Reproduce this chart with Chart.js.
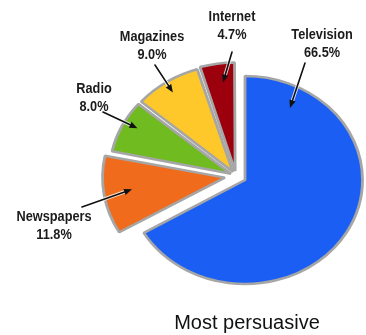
<!DOCTYPE html>
<html>
<head>
<meta charset="utf-8">
<script src="https://cdn.jsdelivr.net/npm/chart.js@4/dist/chart.umd.min.js"></script>
<style>
	html, body { margin: 0; padding: 0; background: #fff; }
	#wrap { width: 366px; height: 335px; position: relative; }
	#wrap div { position: absolute; left: 0; top: 0; width: 366px; height: 335px; }
</style>
</head>
<body>
<div id="wrap">
	<div><canvas id="mainPie"></canvas></div>
	<div><canvas id="smallPie"></canvas></div>
</div>
<script>
// data
const categories = ['Television', 'Newspapers', 'Radio', 'Magazines', 'Internet'];
const shares = [66.5, 11.8, 8.0, 9.0, 4.7];
const chartTitle = 'Most persuasive';

// styles
const sliceColors = ['#1a5ef4', '#f06b1c', '#70bb1f', '#fec82a', '#9b000c'];
const STRETCH_X = 1.13; // the original pie is drawn a little wider than tall
const LABEL_FONT = 'bold 15px "Liberation Sans", Arial, sans-serif';

// the small slices are pulled out of the pie as one group, so they are drawn by a
// second pie laid over the first one (same data, other slices left transparent)
const mainIdx = [0];
const groupIdx = [1, 2, 3, 4];

// callouts: arrow tip inside the slice (t = fraction along slice angle, rf = fraction
// of radius), arrow tail and label centre relative to the pie centre
const callouts = [
	{ t: 0.121, rf: 0.79, tail: [60, -117], label: [77, -145] },
	{ t: 0.53, rf: 0.79, tail: [-154, 31], label: [-182, 41] },
	{ t: 0.59, rf: 0.9, tail: [-133, -64], label: [-142, -87] },
	{ t: 0.48, rf: 0.91, tail: [-81, -111], label: [-84, -139] },
	{ t: 0.59, rf: 0.85, tail: [-4, -124], label: [-4, -159] }
];

function drawArrow(ctx, x1, y1, x2, y2) {
	const ang = Math.atan2(y2 - y1, x2 - x1);
	const len = 8, half = 3.2;
	const bx = x2 - Math.cos(ang) * len, by = y2 - Math.sin(ang) * len;
	ctx.lineCap = 'round';
	ctx.strokeStyle = 'rgba(255,255,255,0.8)';
	ctx.lineWidth = 3.5;
	ctx.beginPath(); ctx.moveTo(x1, y1); ctx.lineTo(bx, by); ctx.stroke();
	ctx.strokeStyle = '#111';
	ctx.lineWidth = 1.6;
	ctx.beginPath(); ctx.moveTo(x1, y1); ctx.lineTo(bx, by); ctx.stroke();
	ctx.fillStyle = '#111';
	ctx.beginPath();
	ctx.moveTo(x2, y2);
	ctx.lineTo(bx + Math.sin(ang) * half, by - Math.cos(ang) * half);
	ctx.lineTo(bx - Math.sin(ang) * half, by + Math.cos(ang) * half);
	ctx.closePath();
	ctx.fill();
}

function condensedText(ctx, text, x, y) {
	ctx.save();
	ctx.translate(x, y);
	ctx.scale(0.85, 1);
	ctx.fillText(text, 0, 0);
	ctx.restore();
}

const stretchPlugin = {
	id: 'stretch',
	beforeDatasetsDraw(chart) {
		const ctx = chart.ctx;
		const cx = chart.getDatasetMeta(0).data[0].x;
		ctx.save();
		ctx.translate(cx, 0);
		ctx.scale(STRETCH_X, 1);
		ctx.translate(-cx, 0);
	},
	afterDatasetsDraw(chart) {
		chart.ctx.restore();
	}
};

const calloutPlugin = {
	id: 'callouts',
	afterDatasetsDraw(chart, args, opts) {
		const ctx = chart.ctx;
		const meta = chart.getDatasetMeta(0);
		ctx.save();
		opts.indices.forEach(i => {
			const arc = meta.data[i];
			const c = callouts[i];
			const shift = (arc.options.offset || 0) / 4;
			const half = (arc.startAngle + arc.endAngle) / 2;
			const a = arc.startAngle + c.t * (arc.endAngle - arc.startAngle);
			const r = arc.outerRadius * c.rf;
			const ux = Math.cos(half) * shift + Math.cos(a) * r;
			const tipX = arc.x + ux * STRETCH_X;
			const tipY = arc.y + Math.sin(half) * shift + Math.sin(a) * r;
			drawArrow(ctx, arc.x + c.tail[0], arc.y + c.tail[1], tipX, tipY);

			ctx.font = LABEL_FONT;
			ctx.fillStyle = '#1b1b1b';
			ctx.textAlign = 'center';
			ctx.textBaseline = 'middle';
			const lx = arc.x + c.label[0], ly = arc.y + c.label[1];
			condensedText(ctx, categories[i], lx, ly);
			condensedText(ctx, shares[i].toFixed(1) + '%', lx, ly + 18);
		});

		if (opts.title) {
			const first = meta.data[0];
			ctx.font = '20px "Liberation Sans", Arial, sans-serif';
			ctx.fillStyle = '#111';
			ctx.textAlign = 'center';
			ctx.textBaseline = 'middle';
			ctx.fillText(chartTitle, first.x + 2, first.y + 143);
		}
		ctx.restore();
	}
};

function makePie(canvasId, visible, offsets, radius, padding, withTitle) {
	const shown = categories.map((c, i) => visible.indexOf(i) !== -1);
	return new Chart(document.getElementById(canvasId), {
		type: 'pie',
		data: {
			labels: categories,
			datasets: [{
				data: shares,
				backgroundColor: sliceColors.map((col, i) => shown[i] ? col : 'rgba(0,0,0,0)'),
				borderColor: '#a6a6a6',
				borderWidth: shown.map(s => s ? 2.5 : 0),
				offset: offsets
			}]
		},
		options: {
			responsive: true,
			maintainAspectRatio: false,
			animation: false,
			radius: radius,
			layout: { padding: padding },
			plugins: {
				legend: { display: false },
				tooltip: { enabled: false },
				title: { display: false },
				callouts: { indices: visible, title: withTitle }
			}
		},
		plugins: [stretchPlugin, calloutPlugin]
	});
}

makePie('mainPie', mainIdx, [0, 0, 0, 0, 0], 104,
	{ left: 124, right: 0, top: 45, bottom: 20 }, true);
makePie('smallPie', groupIdx, [0, 40, 20, 20, 20], 105,
	{ left: 106, right: 0, top: 40, bottom: 23 }, false);
</script>
</body>
</html>
